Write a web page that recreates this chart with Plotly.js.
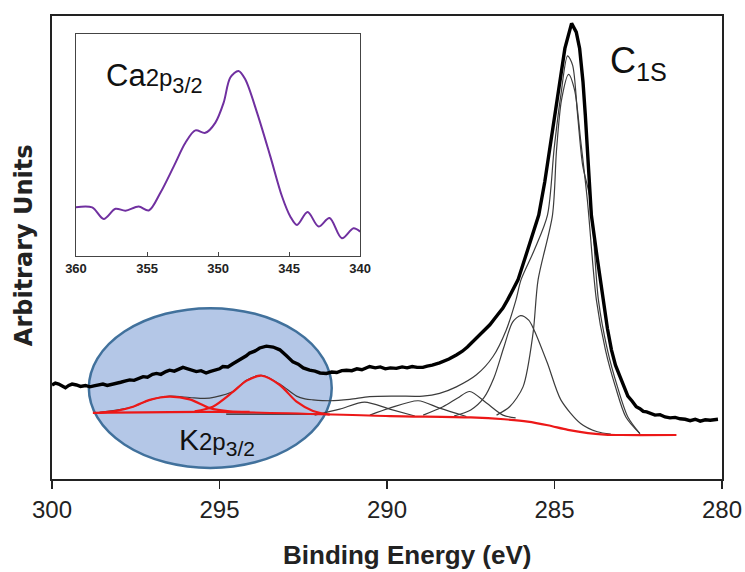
<!DOCTYPE html>
<html>
<head>
<meta charset="utf-8">
<script src="https://cdn.plot.ly/plotly-3.0.1.min.js"></script>
<style>html,body{margin:0;padding:0;background:#fff;}#chart{width:745px;height:572px;}</style>
</head>
<body>
<div id="chart"></div>
<script>
// ---------- Main spectrum (C 1s + K 2p region) ----------
const mainTicks = [300, 295, 290, 285, 280];
const insetTicks = [360, 355, 350, 345, 340];

// measured spectrum (thick black)
const measuredE = [300.0,299.9,299.8,299.7,299.6,299.5,299.4,299.27,299.15,299.0,298.87,298.75,298.6,298.48,298.35,298.2,298.08,297.95,297.8,297.68,297.55,297.4,297.28,297.15,297.0,296.88,296.75,296.6,296.49,296.35,296.2,296.09,295.95,295.8,295.69,295.55,295.4,295.29,295.15,295.0,294.9,294.75,294.6,294.5,294.35,294.2,294.1,293.95,293.8,293.6,293.4,293.2,293.0,292.81,292.65,292.5,292.31,292.15,292.0,291.81,291.65,291.5,291.35,291.21,291.05,290.9,290.75,290.52,290.35,290.2,290.05,289.9,289.72,289.55,289.4,289.25,289.1,288.93,288.8,288.65,288.43,288.3,288.15,287.93,287.75,287.6,287.43,287.2,286.93,286.75,286.54,286.4,286.24,286.09,285.8,285.47,285.29,285.14,284.99,284.84,284.69,284.49,284.35,284.25,284.15,284.08,284.02,283.95,283.9,283.72,283.55,283.42,283.3,283.18,283.05,282.93,282.81,282.68,282.56,282.45,282.35,282.25,282.16,282.0,281.85,281.7,281.55,281.4,281.25,281.1,280.95,280.8,280.65,280.5,280.35,280.2,280.12];
const measuredI = [20.3,20.7,20.5,20.1,19.7,20.2,20.5,20.3,20.0,20.2,19.9,20.1,20.3,20.5,20.2,20.4,20.7,20.9,21.2,21.4,21.3,21.8,22.1,22.0,22.6,22.8,22.6,23.2,23.5,23.3,23.8,24.1,23.8,23.5,23.2,23.4,22.9,23.2,23.5,23.8,24.3,24.2,24.9,25.3,25.8,26.6,27.2,27.6,28.3,28.7,28.5,27.9,26.6,25.3,24.8,24.0,23.5,23.3,22.9,22.8,23.1,23.0,23.4,23.5,23.4,23.8,23.6,24.3,24.0,24.2,23.8,24.0,23.9,24.2,24.0,24.3,24.1,24.1,24.4,24.6,25.1,25.4,25.9,26.8,27.6,28.5,29.7,31.3,33.3,35.0,36.9,38.7,40.8,43.0,49.5,57.0,64.2,71.4,78.6,85.8,93.0,98.4,96.5,93.0,85.8,78.6,71.4,64.2,57.0,47.5,38.7,32.5,27.9,24.6,22.2,19.8,17.9,16.8,15.6,15.2,14.6,14.5,14.2,13.8,13.9,13.4,13.2,13.3,13.0,12.9,12.6,12.9,12.5,12.8,12.7,12.9,12.9];

// fitted envelope (thin)
const envelopeE = [298.58,297.58,297.08,296.49,295.89,295.44,295.14,294.6,294.2,293.74,293.2,292.7,292.45,292.21,291.71,291.11,290.52,289.71,288.93,288.43,287.93,287.33,286.84,286.44,286.15,286.0,285.6,285.21,285.01,284.81,284.61,284.46,284.31,284.16,283.93,283.69,283.42,283.12,282.81,282.45];
const envelopeI = [14.4,15.6,17.1,17.9,17.6,17.4,17.7,18.9,21.3,22.4,20.5,17.9,17.3,17.1,16.9,17.2,17.8,17.9,17.9,18.5,19.9,22.5,26.4,32.2,38.7,43.0,49.5,57.0,71.4,82.9,91.4,89.4,78.6,67.8,60.3,38.7,27.9,19.9,13.4,9.8];

// C-C main component
const compCCE = [286.73,286.34,285.94,285.64,285.49,285.06,284.94,284.79,284.58,284.4,284.22,284.02,283.75,283.48,283.18,282.87,282.45];
const compCCI = [13.8,15.6,19.9,31.5,43.0,57.0,71.0,81.9,87.4,84.0,73.2,60.3,38.7,27.9,19.9,13.4,9.8];

// component ~286.0 eV
const comp286E = [288.0,287.5,287.11,286.81,286.51,286.25,286.01,285.77,285.61,285.21,284.81,284.22,283.72,283.32];
const comp286I = [13.6,14.9,17.5,21.8,28.5,33.9,35.3,34.3,32.2,25.0,17.1,12.0,10.2,9.7];

// component ~287.5 eV
const comp2875E = [288.92,288.33,287.89,287.53,287.03,286.54,286.16];
const comp2875I = [13.8,15.6,17.5,18.9,16.4,13.8,13.2];

// component ~289.0 eV
const comp289E = [290.51,289.92,289.07,288.43,287.63];
const comp289I = [13.8,15.3,16.9,15.3,13.5];

// component ~290.6 eV
const comp2906E = [292.16,291.41,290.67,289.92,289.17];
const comp2906I = [13.8,15.1,16.6,15.1,13.6];

// component base line under K region
const compBaseE = [294.8, 292.0];
const compBaseI = [14.0, 14.0];

// Shirley background (red)
const backgroundE = [298.78,294.99,289.92,287.5,286.5,285.8,285.2,284.6,284.0,283.5,283.0,281.36];
const backgroundI = [14.3,14.5,13.6,13.3,12.9,12.4,11.6,10.6,9.9,9.6,9.5,9.5];

// K 2p3/2 satellite peaks (red)
const kPeak1E = [298.58,298.08,297.58,297.08,296.49,295.89,295.29,294.7,294.1];
const kPeak1I = [14.3,14.7,15.6,17.1,17.8,17.2,15.3,14.6,14.5];
const kPeak2E = [295.74,295.2,294.6,294.2,293.74,293.2,292.7,292.21,291.71];
const kPeak2I = [14.6,15.6,18.8,21.2,22.3,20.3,16.7,14.7,13.9];

// ---------- Inset: Ca 2p3/2 ----------
const caE = [360.0,358.86,358.05,357.22,356.52,355.59,354.88,354.06,353.12,352.3,351.6,350.9,350.2,349.61,349.14,348.56,348.09,347.26,346.33,345.5,344.92,344.45,343.7,342.93,342.16,341.29,340.47,340.0];
const caI = [22.0,21.9,16.7,21.3,20.4,22.3,20.5,28.5,40.4,51.0,56.6,55.5,60.0,69.1,80.4,83.4,79.6,64.6,45.0,26.8,17.8,14.0,19.8,13.3,17.1,8.0,12.5,11.0];

const FONT = 'Liberation Sans, Arial, sans-serif';
const thin = {color:'#3c3c3c', width:1.2, shape:'spline', smoothing:0.8};
const redL = {color:'rgb(236,24,24)', width:2.2, shape:'spline', smoothing:0.8};

function tr(x, y, line, xa, ya) {
  return {x:x, y:y, type:'scatter', mode:'lines', line:line, hoverinfo:'skip',
          xaxis:xa||'x', yaxis:ya||'y'};
}

const data = [
  tr(compBaseE, compBaseI, {color:'#222', width:1.2}),
  tr(comp2906E, comp2906I, thin),
  tr(comp289E, comp289I, thin),
  tr(comp2875E, comp2875I, thin),
  tr(comp286E, comp286I, thin),
  tr(compCCE, compCCI, thin),
  tr(envelopeE, envelopeI, thin),
  tr(backgroundE, backgroundI, redL),
  tr(kPeak1E, kPeak1I, redL),
  tr(kPeak2E, kPeak2I, redL),
  tr(measuredE, measuredI, {color:'#000', width:3.4}),
  tr(caE, caI, {color:'rgb(112,48,160)', width:2, shape:'spline', smoothing:0.9}, 'x2', 'y2')
];

const layout = {
  width:745, height:572,
  margin:{l:52, r:23, t:16, b:93},
  paper_bgcolor:'#fff', plot_bgcolor:'rgba(0,0,0,0)',
  showlegend:false,
  font:{family:FONT, color:'#222'},
  xaxis:{range:[300,280], showline:true, linecolor:'#222', linewidth:2.2, mirror:true,
         ticks:'outside', ticklen:8, tickwidth:1.6, tickcolor:'#222',
         tickvals:mainTicks, ticktext:mainTicks.map(String),
         tickfont:{size:24, family:FONT, color:'#222'}, showgrid:false, zeroline:false},
  yaxis:{range:[0,100], showline:true, linecolor:'#222', linewidth:2.2, mirror:true,
         showticklabels:false, ticks:'', showgrid:false, zeroline:false},
  xaxis2:{domain:[0.0358,0.46], anchor:'y2', range:[360,340], showline:true, mirror:true,
          linecolor:'#444', linewidth:1.2, ticks:'inside', ticklen:4, tickcolor:'#444',
          tickvals:insetTicks, ticktext:insetTicks.map(String),
          tickfont:{size:13, family:FONT, color:'#222', weight:'bold'},
          showgrid:false, zeroline:false},
  yaxis2:{domain:[0.4816,0.961], anchor:'x2', range:[0,100], showline:true, mirror:true,
          linecolor:'#444', linewidth:1.2, showticklabels:false, ticks:'',
          showgrid:false, zeroline:false},
  shapes:[
    {type:'circle', xref:'x', yref:'y', x0:298.9, x1:291.65, y0:2.4, y1:36.9,
     fillcolor:'#b4c7e7', line:{color:'#41719c', width:2.5}, layer:'below'}
  ],
  annotations:[
    {text:'<b>Arbitrary Units</b>', textangle:-90, xref:'paper', yref:'paper',
     x:-0.0418, y:0.505, showarrow:false, xanchor:'center', yanchor:'middle',
     font:{family:'DejaVu Sans', size:24, color:'#222'}},
    {text:'<b>Binding Energy (eV)</b>', xref:'paper', yref:'paper',
     x:0.53, y:-0.164, showarrow:false, xanchor:'center', yanchor:'middle',
     font:{family:FONT, size:26, color:'#222'}},
    {text:'C<sub>1S</sub>', xref:'paper', yref:'paper', x:0.83, y:0.898,
     showarrow:false, xanchor:'left', yanchor:'middle', font:{family:FONT, size:36, color:'#111'}},
    {text:'Ca<span style="font-size:24px">2p</span><sub>3/2</sub>', xref:'paper', yref:'paper',
     x:0.077, y:0.866, showarrow:false, xanchor:'left', yanchor:'middle',
     font:{family:FONT, size:31, color:'#111'}},
    {text:'K<span style="font-size:24px">2p</span><sub>3/2</sub>', xref:'paper', yref:'paper',
     x:0.186, y:0.08, showarrow:false, xanchor:'left', yanchor:'middle',
     font:{family:FONT, size:30, color:'#111'}}
  ]
};

Plotly.newPlot('chart', data, layout, {displayModeBar:false, staticPlot:true});
</script>
</body>
</html>
